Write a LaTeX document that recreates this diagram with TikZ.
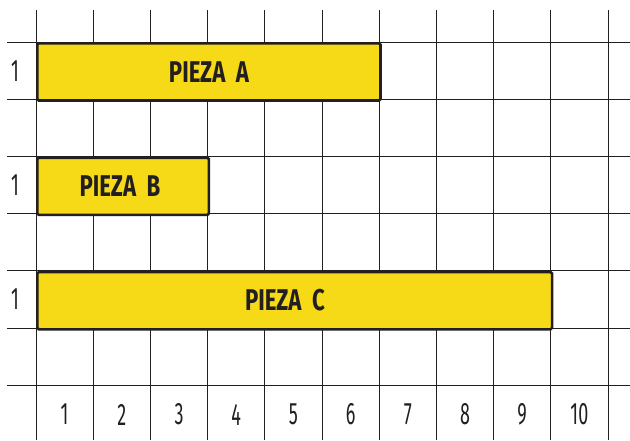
\documentclass[tikz,border=0pt]{standalone}
\usepackage{fontspec}
\newfontfamily\barfont[FakeStretch=0.74]{Fira Sans}
\newfontfamily\numfont[FakeStretch=0.58]{Fira Sans}
\definecolor{baryellow}{HTML}{F6DA18}
\definecolor{ink}{HTML}{231F20}
\begin{document}
\begin{tikzpicture}[x=1pt,y=-1pt,
  gridline/.style={draw=ink, line width=0.95pt},
  barbox/.style={draw=ink, fill=baryellow, line width=2.6pt, rounded corners=1.5pt},
  bartext/.style={font=\barfont\bfseries\fontsize{30}{30}\selectfont, text=ink, inner sep=0pt},
  numtext/.style={font=\numfont\fontsize{31}{31}\selectfont, text=ink, inner sep=0pt}]
\useasboundingbox (0,0) rectangle (630,440);
\fill[white] (0,0) rectangle (630,440);
% vertical grid lines
\foreach \i in {0,...,10} {
  \coordinate (vt\i) at ({36+57.2*\i},10);
  \coordinate (vb\i) at ({36+57.2*\i},440);
  \draw[gridline] (vt\i) -- (vb\i);
}
% horizontal grid lines
\foreach \j in {0,...,6} {
  \coordinate (hl\j) at (7,{42+57.2*\j});
  \coordinate (hr\j) at (630,{42+57.2*\j});
  \draw[gridline] (hl\j) -- (hr\j);
}
% bars
\node[barbox, anchor=north west, minimum width=343.2, minimum height=57.2, inner sep=0pt] (pa) at (36,42) {};
\node[barbox, anchor=north west, minimum width=171.6, minimum height=57.2, inner sep=0pt] (pb) at (36,156.4) {};
\node[barbox, anchor=north west, minimum width=514.8, minimum height=57.2, inner sep=0pt] (pc) at (36,270.8) {};
\node[bartext] (ta) at (209,72.5) {PIEZA\ \ A};
\node[bartext] (tb) at (120,186.5) {PIEZA\ \ B};
\node[bartext] (tc) at (285,300.5) {PIEZA\ \ C};
% left labels
\node[numtext] (la) at (15,71) {1};
\node[numtext] (lb) at (15,185.5) {1};
\node[numtext] (lc) at (15,299.5) {1};
% bottom labels
\foreach \k in {1,...,10} {
  \node[numtext] (n\k) at ({36+57.2*(\k-0.5)},414.5) {\k};
}
\end{tikzpicture}
\end{document}
